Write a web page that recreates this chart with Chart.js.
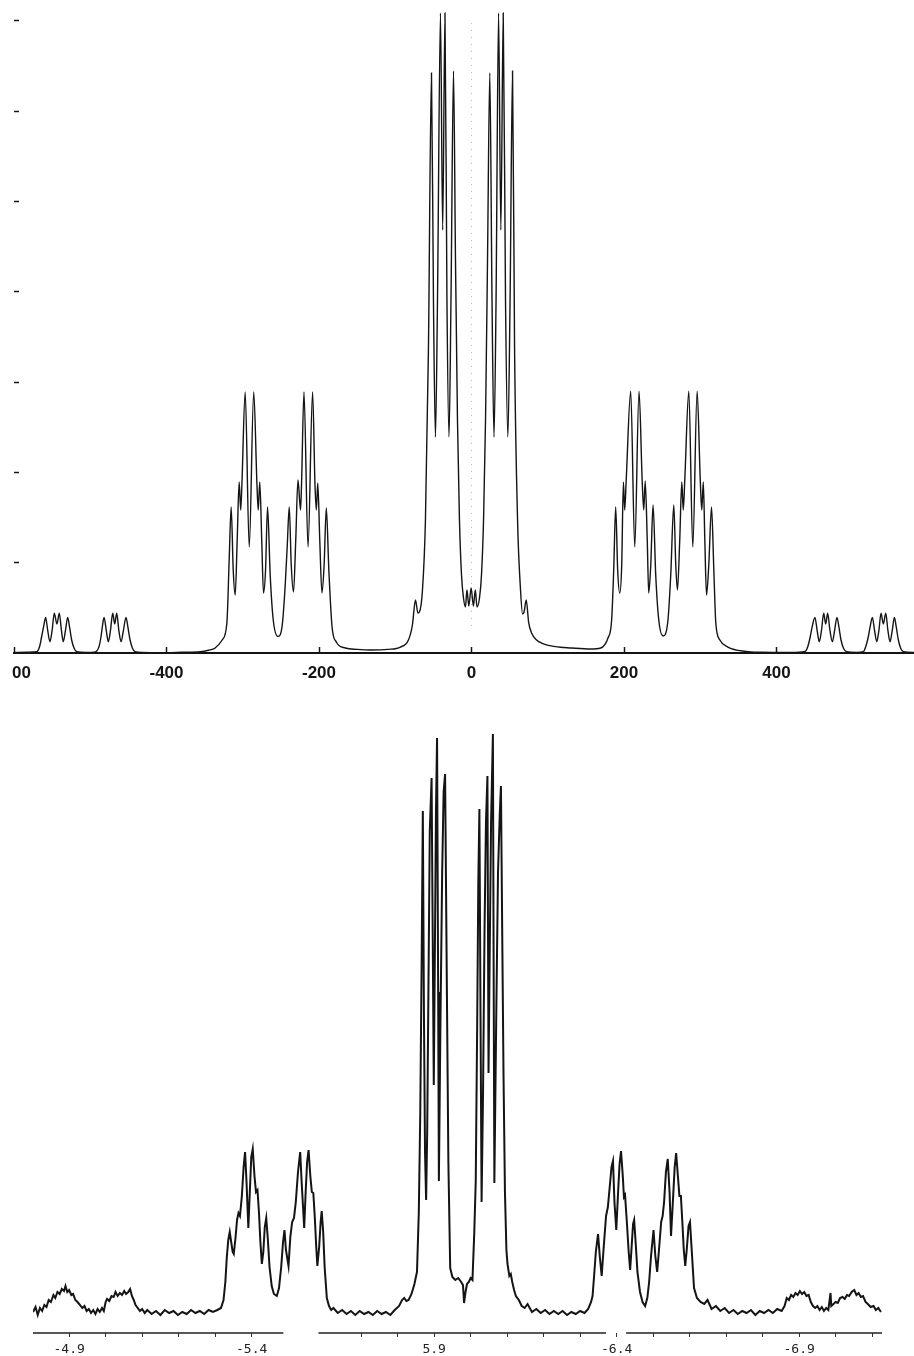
<!DOCTYPE html>
<html>
<head>
<meta charset="utf-8">
<title>Simulated vs. observed spectrum</title>
<script src="https://cdn.jsdelivr.net/npm/chart.js@4.4.1/dist/chart.umd.min.js"></script>
<style>
  html, body { margin: 0; padding: 0; background: #fff; }
  body { width: 914px; height: 1356px; position: relative; overflow: hidden; }
  /* the printed figure is trimmed a little on the left */
  #simClip { position: absolute; left: 12px; top: 0; width: 902px; height: 700px; overflow: hidden; }
  #simBox { position: absolute; left: -32px; top: 0; }
  #expBox { position: absolute; left: 0; top: 700px; }
</style>
</head>
<body>
<div id="simClip"><div id="simBox"><canvas id="simChart" width="969" height="690"></canvas></div></div>
<div id="expBox"><canvas id="expChart" width="914" height="656"></canvas></div>
<script>
/* ==============================
   Top: simulated spectrum (Hz)
   ============================== */
const simTrace = [
  [-600, 0.005], [-585, 0.008], [-575, 0.012], [-570.3, 0.014], [-566.5, 0.07], [-563.8, 0.18], [-561, 0.30],
  [-558.5, 0.395], [-555.8, 0.25], [-552.9, 0.125], [-550, 0.25], [-547.2, 0.44], [-543.7, 0.321], [-540.6, 0.44],
  [-537.8, 0.25], [-535.4, 0.125], [-532.5, 0.25], [-529.6, 0.395], [-527, 0.28], [-524.4, 0.144], [-521, 0.05],
  [-517.8, 0.014], [-505, 0.006], [-495, 0.008], [-491.5, 0.022], [-488.5, 0.07], [-485.9, 0.18], [-484, 0.30],
  [-481.9, 0.395], [-479, 0.25], [-476.3, 0.125], [-473.5, 0.25], [-470.5, 0.44], [-467.9, 0.321], [-465.3, 0.44],
  [-462.5, 0.25], [-459.6, 0.125], [-456.5, 0.25], [-453.1, 0.395], [-450.5, 0.28], [-447.8, 0.144], [-444.5, 0.05],
  [-441.2, 0.014], [-420, 0.004], [-400, 0.004], [-380, 0.008], [-355.9, 0.014], [-345, 0.03], [-336.2, 0.055],
  [-327.0, 0.144], [-320.8, 0.332], [-317.8, 1.03], [-315.2, 1.617], [-312.5, 0.92], [-309.9, 0.642], [-307.3, 1.25],
  [-304.7, 1.894], [-302.7, 1.584], [-301.1, 1.872], [-296.8, 2.89], [-291.5, 1.174], [-285.6, 2.89], [-281.4, 1.872],
  [-279.7, 1.584], [-277.7, 1.894], [-275.1, 1.25], [-272.8, 0.664], [-270.1, 0.92], [-267.5, 1.617], [-264.0, 0.864],
  [-260.0, 0.365], [-253.8, 0.183], [-248.2, 0.31], [-244.3, 0.753], [-241.6, 1.196], [-239.0, 1.617], [-236.4, 0.975],
  [-233.4, 0.676], [-230.5, 1.25], [-227.6, 1.916], [-224.2, 1.584], [-222.9, 1.872], [-219.7, 2.89], [-214.4, 1.174],
  [-208.4, 2.89], [-205.3, 1.872], [-203.5, 1.584], [-201.6, 1.883], [-199.0, 1.25], [-196.1, 0.664], [-193.3, 0.975],
  [-190.4, 1.606], [-187.1, 0.92], [-182.9, 0.291], [-177.3, 0.122], [-165.5, 0.055], [-150, 0.04], [-132.6, 0.033],
  [-110, 0.04], [-93.2, 0.066], [-82.7, 0.144], [-77.5, 0.31], [-73.5, 0.587], [-70.3, 0.443], [-68.3, 0.454],
  [-64.3, 0.698], [-60.4, 1.473], [-56.5, 3.355], [-52.5, 6.423], [-49.9, 3.909], [-47.3, 2.392], [-44.6, 3.909],
  [-40.7, 7.087], [-37.8, 4.684], [-34.8, 7.087], [-32.2, 3.909], [-29.5, 2.392], [-26.9, 3.909], [-23.6, 6.445],
  [-21.0, 4.352], [-18.4, 2.58], [-15.8, 1.473], [-13.1, 0.864], [-10.5, 0.609], [-7.9, 0.509], [-6.0, 0.698],
  [-3.5, 0.52], [-0.5, 0.72], [2.5, 0.52], [5.0, 0.698], [7.2, 0.509], [10.5, 0.609], [13.1, 0.864],
  [15.8, 1.473], [18.4, 2.58], [21.0, 4.352], [24.0, 6.423], [26.9, 3.909], [29.5, 2.392], [32.2, 3.909],
  [35.5, 7.087], [38.5, 4.684], [41.6, 7.087], [44.6, 3.909], [47.7, 2.392], [50.6, 3.909], [53.8, 6.445],
  [56.5, 3.355], [60.4, 1.473], [64.3, 0.698], [67.0, 0.432], [68.9, 0.454], [71.8, 0.587], [74.9, 0.343],
  [78.8, 0.221], [85.4, 0.144], [91.9, 0.11], [110, 0.07], [131.3, 0.055], [156.3, 0.044], [169.4, 0.055],
  [179.0, 0.166], [183.8, 0.365], [186.5, 0.92], [189.1, 1.617], [191.7, 0.92], [194.4, 0.664], [197.0, 0.975],
  [199.2, 1.894], [200.9, 1.584], [202.9, 1.916], [208.8, 2.90], [214.1, 1.174], [219.7, 2.90], [223.9, 1.894],
  [225.9, 1.584], [227.8, 1.905], [230.5, 1.25], [232.4, 0.664], [235.1, 0.975], [238.1, 1.639], [241.6, 0.864],
  [245.6, 0.365], [251.2, 0.188], [257.4, 0.343], [261.3, 0.864], [265.3, 1.639], [267.9, 0.975], [270.1, 0.698],
  [273.1, 1.25], [275.8, 1.894], [277.7, 1.584], [279.7, 1.916], [285.0, 2.90], [290.2, 1.174], [295.9, 2.90],
  [300.1, 1.894], [302.0, 1.584], [304.0, 1.894], [306.0, 1.25], [308.2, 0.642], [311.2, 0.975], [314.8, 1.617],
  [317.8, 0.92], [320.4, 0.332], [325.7, 0.144], [336.2, 0.066], [359.8, 0.017], [380, 0.008], [418.9, 0.005],
  [437.3, 0.017], [441, 0.07], [443.9, 0.166], [447, 0.30], [450.4, 0.395], [453.3, 0.25], [456.1, 0.125],
  [459, 0.25], [461.9, 0.44], [464.5, 0.321], [467.1, 0.44], [470.1, 0.25], [473.2, 0.125], [476.2, 0.25],
  [479.3, 0.395], [482, 0.28], [484.6, 0.144], [488, 0.05], [492.1, 0.014], [505, 0.006], [513.9, 0.014],
  [517, 0.07], [520.4, 0.18], [523, 0.30], [525.7, 0.395], [528.6, 0.25], [531.5, 0.125], [534.3, 0.25],
  [537.1, 0.44], [540.1, 0.321], [543.3, 0.44], [546.1, 0.25], [548.9, 0.125], [551.8, 0.25], [554.6, 0.395],
  [557.2, 0.28], [559.8, 0.144], [563, 0.05], [566.4, 0.014], [580, 0.006], [600, 0.005]
];
const simTicks = [-600, -400, -200, 0, 200, 400, 600];
const simLevelTicks = [1, 2, 3, 4, 5, 6, 7];
const simZeroLine = [[0, 0.3], [0, 7.0]];

/* ==============================
   Bottom: observed spectrum (ppm)
   ============================== */
const expTrace = [
  [-4.801, 0.00], [-4.808, 0.05], [-4.814, -0.03], [-4.820, 0.04], [-4.826, 0.01], [-4.832, 0.07], [-4.838, 0.05],
  [-4.844, 0.12], [-4.850, 0.10], [-4.857, 0.17], [-4.862, 0.14], [-4.868, 0.20], [-4.874, 0.18], [-4.880, 0.23],
  [-4.886, 0.21], [-4.890, 0.26], [-4.895, 0.20], [-4.900, 0.22], [-4.906, 0.17], [-4.911, 0.18], [-4.917, 0.12],
  [-4.923, 0.10], [-4.930, 0.07], [-4.936, 0.04], [-4.942, 0.06], [-4.948, 0.01], [-4.954, 0.03], [-4.960, -0.01],
  [-4.966, 0.02], [-4.972, -0.02], [-4.978, 0.03], [-4.984, 0.00], [-4.990, 0.04], [-4.995, 0.01], [-5.000, 0.10],
  [-5.004, 0.13], [-5.010, 0.11], [-5.016, 0.16], [-5.022, 0.15], [-5.027, 0.20], [-5.033, 0.16], [-5.039, 0.19],
  [-5.045, 0.17], [-5.051, 0.21], [-5.056, 0.18], [-5.062, 0.20], [-5.067, 0.23], [-5.072, 0.16], [-5.077, 0.12],
  [-5.082, 0.07], [-5.088, 0.04], [-5.094, 0.01], [-5.100, 0.03], [-5.107, -0.01], [-5.114, 0.02], [-5.126, -0.02],
  [-5.138, 0.01], [-5.150, -0.03], [-5.162, 0.02], [-5.174, -0.01], [-5.186, 0.01], [-5.198, -0.03], [-5.210, 0.00],
  [-5.222, -0.02], [-5.234, 0.02], [-5.246, -0.01], [-5.258, 0.01], [-5.270, -0.02], [-5.282, 0.02], [-5.294, 0.00],
  [-5.306, 0.02], [-5.316, 0.04], [-5.323, 0.12], [-5.328, 0.30], [-5.332, 0.55], [-5.336, 0.72], [-5.340, 0.80],
  [-5.344, 0.70], [-5.348, 0.60], [-5.351, 0.58], [-5.356, 0.75], [-5.360, 0.92], [-5.364, 0.99], [-5.368, 0.96],
  [-5.373, 1.15], [-5.378, 1.45], [-5.382, 1.60], [-5.386, 1.30], [-5.391, 0.84], [-5.395, 1.20], [-5.399, 1.55],
  [-5.403, 1.63], [-5.408, 1.35], [-5.412, 1.20], [-5.416, 1.22], [-5.420, 1.00], [-5.424, 0.70], [-5.428, 0.48],
  [-5.432, 0.60], [-5.436, 0.85], [-5.440, 0.94], [-5.444, 0.75], [-5.449, 0.45], [-5.455, 0.26], [-5.461, 0.18],
  [-5.469, 0.16], [-5.475, 0.24], [-5.481, 0.45], [-5.486, 0.70], [-5.490, 0.82], [-5.494, 0.62], [-5.501, 0.46],
  [-5.506, 0.75], [-5.511, 0.90], [-5.516, 0.94], [-5.521, 1.10], [-5.527, 1.40], [-5.533, 1.60], [-5.537, 1.30],
  [-5.544, 0.84], [-5.548, 1.20], [-5.552, 1.50], [-5.556, 1.62], [-5.561, 1.35], [-5.565, 1.20], [-5.569, 1.19],
  [-5.573, 0.95], [-5.577, 0.65], [-5.580, 0.46], [-5.585, 0.65], [-5.589, 0.90], [-5.592, 1.01], [-5.596, 0.80],
  [-5.600, 0.45], [-5.606, 0.14], [-5.612, 0.06], [-5.618, 0.02], [-5.624, 0.04], [-5.636, -0.01], [-5.648, 0.02],
  [-5.660, -0.02], [-5.672, 0.01], [-5.684, -0.03], [-5.696, 0.01], [-5.708, -0.02], [-5.720, 0.00], [-5.732, -0.03],
  [-5.744, 0.01], [-5.756, -0.02], [-5.768, 0.00], [-5.780, -0.03], [-5.792, 0.02], [-5.804, 0.06], [-5.812, 0.12],
  [-5.818, 0.14], [-5.824, 0.11], [-5.830, 0.12], [-5.838, 0.18], [-5.846, 0.28], [-5.853, 0.40], [-5.858, 1.00],
  [-5.862, 1.99], [-5.866, 3.60], [-5.869, 5.01], [-5.872, 3.00], [-5.875, 1.60], [-5.878, 1.12], [-5.881, 1.80],
  [-5.885, 3.50], [-5.888, 4.80], [-5.893, 5.34], [-5.896, 3.80], [-5.899, 2.27], [-5.902, 3.60], [-5.905, 5.00],
  [-5.908, 5.74], [-5.911, 3.20], [-5.913, 1.31], [-5.917, 2.80], [-5.922, 4.40], [-5.926, 5.20], [-5.930, 5.38],
  [-5.935, 3.18], [-5.939, 1.50], [-5.944, 0.44], [-5.950, 0.35], [-5.958, 0.32], [-5.966, 0.34], [-5.974, 0.30],
  [-5.979, 0.27], [-5.982, 0.09], [-5.986, 0.20], [-5.990, 0.28], [-5.995, 0.30], [-6.000, 0.34], [-6.005, 0.32],
  [-6.010, 0.80], [-6.014, 1.31], [-6.018, 2.90], [-6.021, 4.30], [-6.024, 5.03], [-6.027, 3.00], [-6.030, 1.10],
  [-6.034, 2.20], [-6.038, 3.80], [-6.042, 4.90], [-6.046, 5.36], [-6.049, 2.39], [-6.052, 3.50], [-6.056, 4.90],
  [-6.061, 5.78], [-6.063, 3.50], [-6.065, 1.29], [-6.070, 2.90], [-6.075, 4.40], [-6.080, 5.00], [-6.083, 5.26],
  [-6.087, 3.60], [-6.090, 2.39], [-6.094, 1.20], [-6.098, 0.62], [-6.101, 0.48], [-6.106, 0.36], [-6.110, 0.38],
  [-6.114, 0.30], [-6.119, 0.22], [-6.124, 0.16], [-6.132, 0.12], [-6.140, 0.06], [-6.148, 0.04], [-6.156, 0.08],
  [-6.168, 0.00], [-6.180, 0.03], [-6.192, -0.01], [-6.204, 0.02], [-6.216, -0.02], [-6.228, 0.01], [-6.240, -0.02],
  [-6.252, 0.01], [-6.264, -0.03], [-6.276, 0.00], [-6.288, -0.02], [-6.300, 0.01], [-6.312, -0.01], [-6.322, 0.03],
  [-6.330, 0.10], [-6.334, 0.16], [-6.338, 0.35], [-6.343, 0.60], [-6.349, 0.78], [-6.354, 0.55], [-6.359, 0.36],
  [-6.364, 0.62], [-6.371, 0.96], [-6.376, 1.05], [-6.381, 1.25], [-6.386, 1.45], [-6.390, 1.51], [-6.394, 1.10],
  [-6.399, 0.82], [-6.404, 1.20], [-6.408, 1.48], [-6.412, 1.61], [-6.417, 1.35], [-6.420, 1.15], [-6.423, 1.17],
  [-6.428, 0.90], [-6.433, 0.60], [-6.437, 0.42], [-6.441, 0.65], [-6.445, 0.88], [-6.448, 0.92], [-6.452, 0.70],
  [-6.457, 0.40], [-6.464, 0.20], [-6.471, 0.10], [-6.478, 0.06], [-6.484, 0.14], [-6.489, 0.30], [-6.494, 0.55],
  [-6.501, 0.82], [-6.506, 0.56], [-6.511, 0.40], [-6.516, 0.62], [-6.522, 0.90], [-6.526, 0.96], [-6.530, 1.10],
  [-6.535, 1.40], [-6.540, 1.53], [-6.545, 1.20], [-6.549, 0.76], [-6.554, 1.10], [-6.559, 1.45], [-6.563, 1.59],
  [-6.568, 1.35], [-6.572, 1.16], [-6.576, 1.16], [-6.580, 0.90], [-6.584, 0.62], [-6.588, 0.46], [-6.592, 0.62],
  [-6.597, 0.86], [-6.601, 0.90], [-6.606, 0.60], [-6.612, 0.24], [-6.620, 0.14], [-6.630, 0.10], [-6.640, 0.08],
  [-6.649, 0.12], [-6.660, 0.03], [-6.672, 0.06], [-6.684, 0.01], [-6.696, 0.04], [-6.708, -0.01], [-6.720, 0.02],
  [-6.732, -0.02], [-6.744, 0.01], [-6.756, -0.01], [-6.768, 0.02], [-6.780, -0.03], [-6.792, 0.01], [-6.804, -0.01],
  [-6.816, 0.02], [-6.828, -0.01], [-6.840, 0.03], [-6.852, 0.01], [-6.860, 0.06], [-6.866, 0.14], [-6.872, 0.12],
  [-6.878, 0.17], [-6.884, 0.15], [-6.890, 0.19], [-6.896, 0.17], [-6.902, 0.21], [-6.908, 0.18], [-6.914, 0.20],
  [-6.920, 0.16], [-6.926, 0.17], [-6.932, 0.10], [-6.938, 0.06], [-6.944, 0.04], [-6.950, 0.06], [-6.956, 0.02],
  [-6.962, 0.05], [-6.968, 0.01], [-6.974, 0.04], [-6.980, 0.02], [-6.986, 0.19], [-6.988, 0.06], [-6.994, 0.08],
  [-7.000, 0.10], [-7.006, 0.09], [-7.012, 0.14], [-7.019, 0.15], [-7.025, 0.13], [-7.031, 0.17], [-7.037, 0.16],
  [-7.044, 0.20], [-7.051, 0.22], [-7.057, 0.17], [-7.063, 0.19], [-7.069, 0.15], [-7.075, 0.16], [-7.082, 0.10],
  [-7.088, 0.08], [-7.096, 0.05], [-7.104, 0.06], [-7.110, 0.02], [-7.117, 0.04], [-7.124, 0.00]
];
const expTickShift = [-4.9, -5.0, -5.1, -5.2, -5.3, -5.4, -5.7, -5.8, -5.9, -6.0, -6.1,
                      -6.2, -6.3, -6.4, -6.5, -6.6, -6.7, -6.8, -6.9, -7.0, -7.1];
const expLabelShift = [-4.9, -5.4, -5.9, -6.4, -6.9];
const expLabelText = ['-4.9', '-5.4', '5.9', '-6.4', '-6.9'];
// the printed ppm axis is broken into three pieces
const expAxisPieces = [[-4.801, -5.487], [-5.583, -6.371], [-6.426, -7.127]];
const expAxisLevel = -0.21;

const INK = '#141414';

function toPoints(pairs) {
    return pairs.map(p => ({ x: p[0], y: p[1] }));
}

function axisPoints(pieces, level) {
    const pts = [];
    pieces.forEach((seg, i) => {
        pts.push({ x: seg[0], y: level }, { x: seg[1], y: level });
        if (i < pieces.length - 1) pts.push({ x: (seg[1] + pieces[i + 1][0]) / 2, y: null });
    });
    return pts;
}

function expLabel(v) {
    const i = expLabelShift.findIndex(s => Math.abs(s - v) < 1e-6);
    return i >= 0 ? expLabelText[i] : '';
}

Chart.defaults.animation = false;
Chart.defaults.plugins.legend.display = false;
Chart.defaults.plugins.tooltip.enabled = false;

// ── Top chart ──────────
new Chart(document.getElementById('simChart'), {
    type: 'line',
    data: {
        datasets: [
            { data: toPoints(simZeroLine), borderColor: '#b4b4b4', borderWidth: 1, borderDash: [1, 6], pointRadius: 0, order: 2 },
            { data: toPoints(simTrace), borderColor: INK, borderWidth: 1.4, pointRadius: 0, cubicInterpolationMode: 'monotone', order: 1 }
        ]
    },
    options: {
        responsive: false,
        layout: { padding: { left: 0, right: 20, top: 0, bottom: 0 } },
        scales: {
            x: {
                type: 'linear', min: -600, max: 600,
                afterBuildTicks: s => { s.ticks = simTicks.map(v => ({ value: v })); },
                ticks: { autoSkip: false, maxRotation: 0, padding: 16, color: INK,
                         font: { family: 'Liberation Sans', weight: 'bold', size: 17 }, callback: v => String(v) },
                grid: { drawOnChartArea: false, tickLength: -6, tickColor: INK, tickWidth: 1.5 },
                border: { display: true, color: INK, width: 2 },
                afterFit: s => { s.height = 37; s.paddingLeft = 0; s.paddingRight = 0; }
            },
            y: {
                type: 'linear', min: 0, max: 7.231,
                afterBuildTicks: s => { s.ticks = simLevelTicks.map(v => ({ value: v })); },
                ticks: { display: false },
                grid: { drawOnChartArea: false, tickLength: -5, tickColor: INK, tickWidth: 1.5 },
                border: { display: false },
                afterFit: s => { s.width = 34; }
            }
        }
    }
});

// ── Bottom chart ──────────
new Chart(document.getElementById('expChart'), {
    type: 'line',
    data: {
        datasets: [
            { data: axisPoints(expAxisPieces, expAxisLevel), borderColor: '#222', borderWidth: 1.5, pointRadius: 0, spanGaps: false, clip: false },
            { data: toPoints(expTrace), borderColor: INK, borderWidth: 2, pointRadius: 0, tension: 0 }
        ]
    },
    options: {
        responsive: false,
        layout: { padding: { left: 0, right: 32, top: 0, bottom: 0 } },
        scales: {
            x: {
                type: 'linear', reverse: true, min: -7.127, max: -4.801,
                afterBuildTicks: s => { s.ticks = expTickShift.map(v => ({ value: v })); },
                ticks: { autoSkip: false, maxRotation: 0, padding: 5, color: '#222',
                         font: { family: 'DejaVu Sans Mono', size: 13 }, callback: v => expLabel(v) },
                grid: { drawOnChartArea: false, tickLength: 4, tickColor: '#333', tickWidth: 1 },
                border: { display: false },
                afterFit: s => { s.height = 23; s.paddingLeft = 0; s.paddingRight = 0; }
            },
            y: {
                type: 'linear', min: -0.21, max: 6.12,
                ticks: { display: false },
                grid: { display: false },
                border: { display: false },
                afterFit: s => { s.width = 33; }
            }
        }
    }
});
</script>
</body>
</html>
